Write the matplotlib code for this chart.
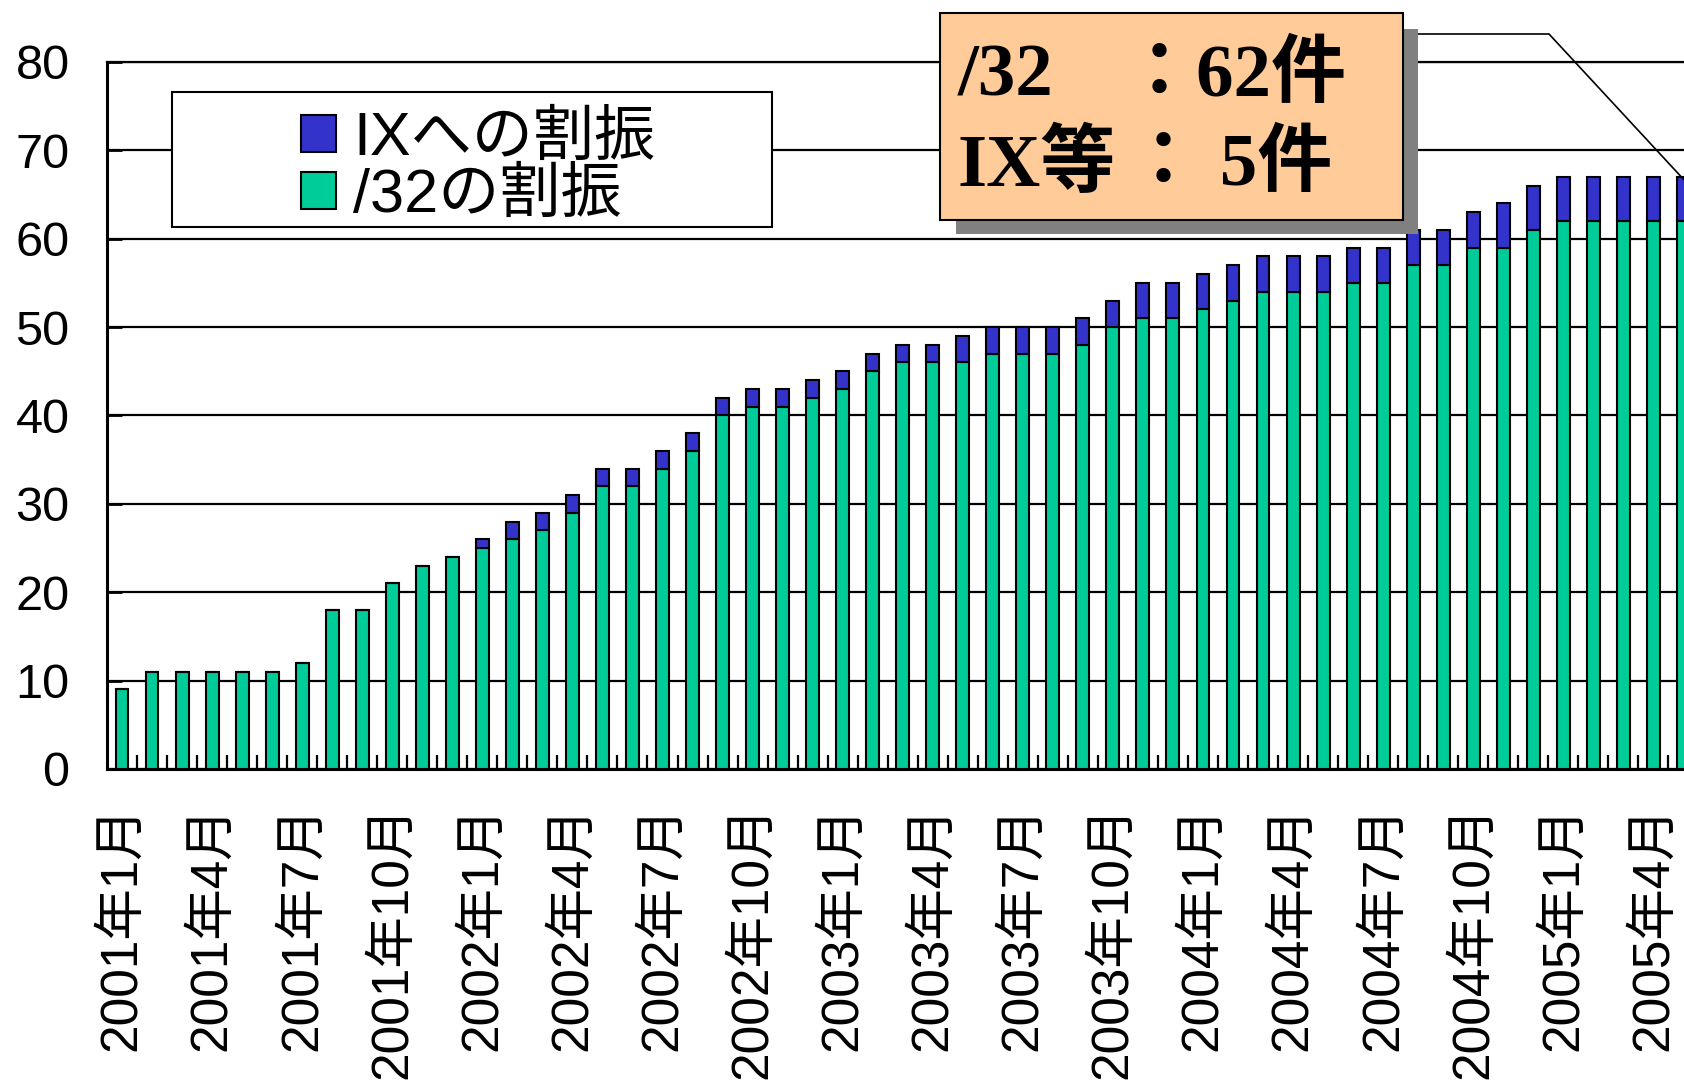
import matplotlib
matplotlib.use('Agg')
import matplotlib.pyplot as plt
from matplotlib import font_manager
from matplotlib.patches import Rectangle
from matplotlib.lines import Line2D
import numpy as np

# ---- data ----
months = [f"{2001 + i // 12}年{i % 12 + 1}月" for i in range(53)]
alloc_32 = [9, 11, 11, 11, 11, 11, 12, 18, 18, 21, 23, 24,
            25, 26, 27, 29, 32, 32, 34, 36, 40, 41, 41, 42,
            43, 45, 46, 46, 46, 47, 47, 47, 48, 50, 51, 51,
            52, 53, 54, 54, 54, 55, 55, 57, 57, 59, 59, 61,
            62, 62, 62, 62, 62]
alloc_ix = [0, 0, 0, 0, 0, 0, 0, 0, 0, 0, 0, 0,
            1, 2, 2, 2, 2, 2, 2, 2, 2, 2, 2, 2,
            2, 2, 2, 2, 3, 3, 3, 3, 3, 3, 4, 4,
            4, 4, 4, 4, 4, 4, 4, 4, 4, 4, 5, 5,
            5, 5, 5, 5, 5]
legend_labels = ["IXへの割振", "/32の割振"]
yticks = list(range(0, 81, 10))
box_line1 = ["/32", "：62件"]
box_line2 = ["IX等", "： 5件"]

GREEN = "#00CC99"
BLUE = "#3333CC"

names = {f.name for f in font_manager.fontManager.ttflist}
narrow = "Liberation Sans Narrow" if "Liberation Sans Narrow" in names else "Liberation Sans"
CJK = "Noto Sans CJK JP"

W, H = 1684, 1080
fig = plt.figure(figsize=(W / 100, H / 100), dpi=100)

def fx(px):
    return px / W

def fy(py):
    return 1 - py / H

ax = fig.add_axes([fx(107), fy(769), fx(W - 107), (769 - 62) / H])

x = np.arange(len(months))
bw = 0.43
ax.bar(x, alloc_32, width=bw, color=GREEN, edgecolor="black", linewidth=1.5, zorder=3)
ax.bar(x, alloc_ix, width=bw, bottom=alloc_32, color=BLUE, edgecolor="black",
       linewidth=1.5, zorder=3)

ax.set_yticks(yticks)
ax.set_yticklabels([str(v) for v in yticks], family=[narrow, CJK], fontsize=35)
ax.tick_params(axis="y", direction="in", length=11, width=2, pad=27, colors="black")

ax.set_xticks(x[::3])
ax.set_xticklabels(months[::3], rotation=90, va="top", ha="center",
                   family=["Liberation Sans", CJK], fontsize=37)
ax.tick_params(axis="x", which="major", length=0, pad=26)
ax.set_xticks(np.arange(0.5, 52, 1), minor=True)
ax.tick_params(axis="x", which="minor", direction="in", length=10, width=1.6)

# limits after ticks (set_xticks may expand the view)
ax.set_xlim(-0.5, 52.02)
ax.set_ylim(0, 80)

ax.yaxis.grid(True, color="black", linewidth=1.6)
ax.set_axisbelow(True)
ax.spines["right"].set_visible(False)
ax.spines["top"].set_linewidth(1.6)
ax.spines["left"].set_linewidth(2.2)
ax.spines["bottom"].set_linewidth(2.2)

# legend frame + legend
frame = Rectangle((fx(172), fy(227)), fx(772) - fx(172), (227 - 92) / H,
                  transform=fig.transFigure, facecolor="white", edgecolor="black",
                  linewidth=1.5, zorder=10)
fig.patches.append(frame)
handles = [Rectangle((0, 0), 1, 1, facecolor=BLUE, edgecolor="black", linewidth=1.5),
           Rectangle((0, 0), 1, 1, facecolor=GREEN, edgecolor="black", linewidth=1.5)]
leg = fig.legend(handles, legend_labels, loc="center",
                 bbox_to_anchor=(fx(478), fy(168)), frameon=False,
                 prop={"family": [narrow, CJK], "size": 44},
                 handlelength=0.57, handleheight=0.57, handletextpad=0.28,
                 labelspacing=0.0, borderpad=0)
leg.set_zorder(11)

# annotation box with shadow
shadow = Rectangle((fx(956), fy(234)), fx(1418) - fx(956), (234 - 29) / H,
                   transform=fig.transFigure, facecolor="#808080", edgecolor="none",
                   zorder=12)
box = Rectangle((fx(940), fy(220)), fx(1403) - fx(940), (220 - 13) / H,
                transform=fig.transFigure, facecolor="#FFCC99", edgecolor="black",
                linewidth=1.5, zorder=13)
fig.patches.append(shadow)
fig.patches.append(box)

tfont = dict(family=["Liberation Serif", CJK], weight="bold", fontsize=54,
             va="center", ha="left", zorder=14)
fig.text(fx(958), fy(77), box_line1[0], **tfont)
fig.text(fx(1122), fy(77), box_line1[1], **tfont)
fig.text(fx(958), fy(166), box_line2[0], **tfont)
fig.text(fx(1126), fy(166), box_line2[1], **tfont)

# leader line
lx = [1418, 1549, 1700]
ly = [34, 34, 34 + (1700 - 1549) * 1.08]
fig.lines.append(Line2D([fx(v) for v in lx], [fy(v) for v in ly],
                        transform=fig.transFigure, color="black", linewidth=1.2,
                        zorder=12))

fig.savefig("out.png", dpi=100)
